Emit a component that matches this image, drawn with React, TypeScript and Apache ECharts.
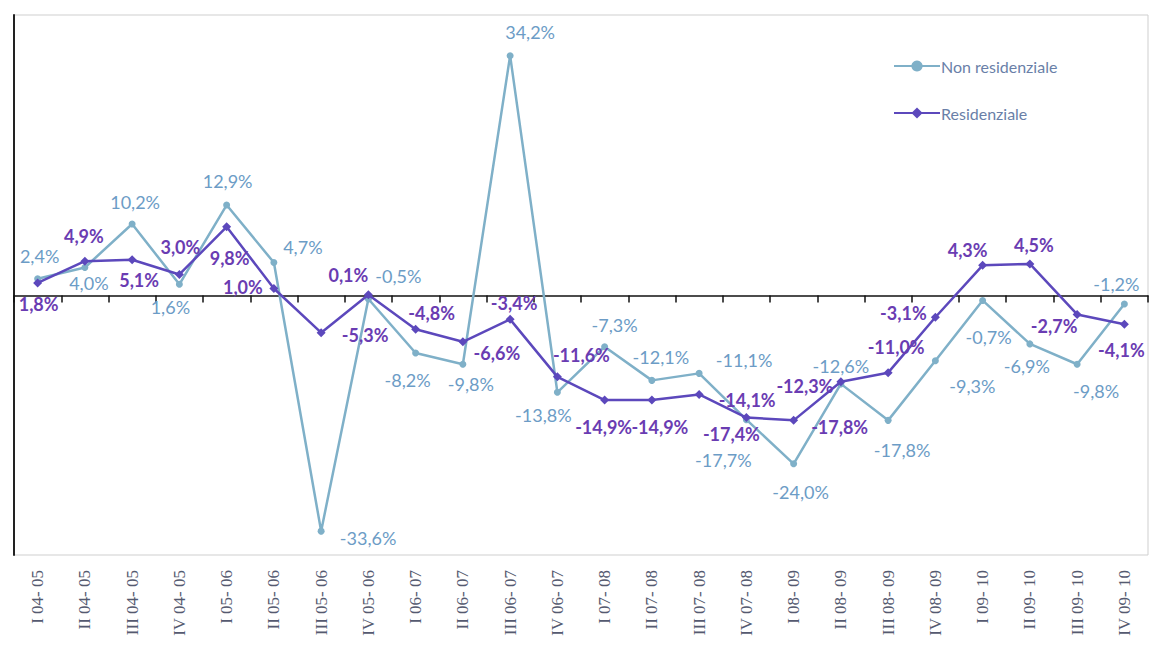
import React, { useEffect, useRef } from "react";
import * as echarts from "echarts";

const categories = [
  "I 04- 05", "II 04- 05", "III 04- 05", "IV 04- 05",
  "I 05- 06", "II 05- 06", "III 05- 06", "IV 05- 06",
  "I 06- 07", "II 06- 07", "III 06- 07", "IV 06- 07",
  "I 07- 08", "II 07- 08", "III 07- 08", "IV 07- 08",
  "I 08- 09", "II 08- 09", "III 08- 09", "IV 08- 09",
  "I 09- 10", "II 09- 10", "III 09- 10", "IV 09- 10",
];

const nonResValues = [
  2.4, 4.0, 10.2, 1.6, 12.9, 4.7, -33.6, -0.5, -8.2, -9.8, 34.2, -13.8,
  -7.3, -12.1, -11.1, -17.7, -24.0, -12.6, -17.8, -9.3, -0.7, -6.9, -9.8, -1.2,
];

const resValues = [
  1.8, 4.9, 5.1, 3.0, 9.8, 1.0, -5.3, 0.1, -4.8, -6.6, -3.4, -11.6,
  -14.9, -14.9, -14.1, -17.4, -17.8, -12.3, -11.0, -3.1, 4.3, 4.5, -2.7, -4.1,
];

// label placement (style only): offset of label centre from its point
const nonResLabelOffsets = [
  [2, -23], [4, 16], [3, -22], [-9, 23], [1, -24], [29, -16], [47, 7], [30, -23],
  [-8, 27], [8, 20], [20, -24], [-14, 23], [10, -22], [9, -23], [45, -13], [-23, 40],
  [7, 28], [0, -18], [14, 30], [37, 25], [6, 37], [-3, 22], [19, 27], [-8, -20],
];
const resLabelOffsets = [
  [1, 21], [-1, -25], [7, 20], [1, -27], [3, 31], [-31, -2], [44, 2], [-20, -20],
  [16, -16], [34, 11], [4, -16], [24, -22], [-1, 27], [8, 27], [48, 6], [-15, 16],
  [46, 7], [-36, 4], [8, -26], [-32, -4], [-15, -15], [4, -19], [-23, 12], [-3, 26],
];

const NONRES_LINE = "#7fb0c8";
const NONRES_TEXT = "#6c9cc6";
const RES_LINE = "#5c48bc";
const RES_TEXT = "#6a3cb2";

const fmt = (v: number) => v.toFixed(1).replace(".", ",") + "%";

export default function App() {
  const ref = useRef<HTMLDivElement>(null);
  useEffect(() => {
    if (!ref.current) return;
    const chart = echarts.init(ref.current, undefined, { renderer: "svg" });
    const mk = (vals: number[], offs: number[][]) =>
      vals.map((v, i) => ({
        value: v,
        label: { position: "inside", offset: offs[i] },
      }));
    chart.setOption({
      animation: false,
      backgroundColor: "#ffffff",
      grid: {
        left: 14,
        right: 7,
        top: 15,
        bottom: 109,
        show: true,
        borderColor: "#cfcfcf",
        borderWidth: 1,
      },
      legend: {
        orient: "vertical",
        left: 888,
        top: 53,
        itemWidth: 46,
        itemHeight: 14,
        itemGap: 31,
        textStyle: { color: "#6a7fa8", fontSize: 16, fontFamily: "Lato", padding: [0, 0, 0, -4] },
        data: ["Non residenziale", "Residenziale"],
      },
      xAxis: [
        {
          type: "category",
          data: categories,
          boundaryGap: true,
          position: "bottom",
          axisLine: { show: false, onZero: false },
          axisTick: { show: false },
          axisLabel: {
            interval: 0,
            rotate: 90,
            margin: 15,
            fontSize: 17,
            fontFamily: "Liberation Serif",
            color: "#555a70",
          },
        },
        {
          type: "category",
          data: categories,
          boundaryGap: true,
          position: "bottom",
          axisLine: {
            show: true,
            onZero: true,
            onZeroAxisIndex: 0,
            lineStyle: { color: "#111111", width: 1.5 },
          },
          axisTick: {
            show: true,
            interval: 0,
            length: 7,
            lineStyle: { color: "#111111", width: 1.5 },
          },
          axisLabel: { show: false },
        },
      ],
      yAxis: {
        type: "value",
        min: -37,
        max: 40,
        axisLine: { show: true, onZero: false, lineStyle: { color: "#222222", width: 2 } },
        axisTick: { show: false },
        axisLabel: { show: false },
        splitLine: { show: false },
      },
      series: [
        {
          name: "Non residenziale",
          type: "line",
          xAxisIndex: 0,
          data: mk(nonResValues, nonResLabelOffsets),
          symbol: "circle",
          symbolSize: 7,
          lineStyle: { color: NONRES_LINE, width: 2.5 },
          itemStyle: { color: NONRES_LINE },
          label: {
            show: true,
            formatter: (p: any) => fmt(p.value),
            color: NONRES_TEXT,
            fontSize: 18,
            fontFamily: "Lato",
            textBorderWidth: 0,
          },
          z: 2,
        },
        {
          name: "Residenziale",
          type: "line",
          xAxisIndex: 0,
          data: mk(resValues, resLabelOffsets),
          symbol: "diamond",
          symbolSize: 9,
          lineStyle: { color: RES_LINE, width: 2.5 },
          itemStyle: { color: RES_LINE },
          label: {
            show: true,
            formatter: (p: any) => fmt(p.value),
            color: RES_TEXT,
            fontSize: 18,
            fontWeight: "bold",
            fontFamily: "Lato",
            textBorderWidth: 0,
          },
          z: 3,
        },
      ],
    });
    return () => chart.dispose();
  }, []);
  return (
    <div
      ref={ref}
      style={{ position: "fixed", left: 0, top: 0, width: 1155, height: 664, background: "#fff" }}
    />
  );
}
